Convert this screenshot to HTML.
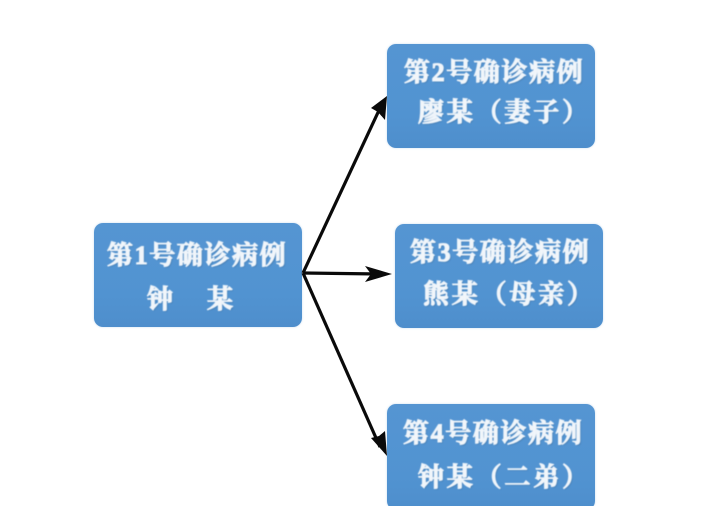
<!DOCTYPE html>
<html lang="zh">
<head>
<meta charset="utf-8">
<style>
html,body{margin:0;padding:0;background:#fff}
#c{position:relative;width:725px;height:506px;overflow:hidden;background:#fff}
.b{position:absolute;width:208px;height:104px;border-radius:9px;background:linear-gradient(#5595d2,#5193d1 70%,#4e8ecc);box-shadow:0 0 2px rgba(120,170,215,.4)}
.t{position:absolute;white-space:nowrap;line-height:30px;height:30px;color:#f2f6fa;font-family:"Liberation Serif","Noto Serif CJK SC",serif;font-weight:700;font-size:26px;letter-spacing:1.6px;-webkit-text-stroke:1.1px #eef4fa;filter:blur(.5px);text-shadow:1px 1px 1px rgba(50,90,130,.45)}
.s{letter-spacing:2.8px}
svg{position:absolute;left:0;top:0}
</style>
</head>
<body>
<div id="c">
<div class="b" style="left:94px;top:223px"></div>
<div class="b" style="left:387px;top:44px"></div>
<div class="b" style="left:395px;top:224px"></div>
<div class="b" style="left:387px;top:404px;height:106px"></div>

<div class="t" style="left:107px;top:241px">第1号确诊病例</div>
<div class="t" style="left:147px;top:285px">钟</div>
<div class="t" style="left:207px;top:285px">某</div>

<div class="t" style="left:404px;top:58px">第2号确诊病例</div>
<div class="t s" style="left:418px;top:98px">廖某（妻子）</div>

<div class="t" style="left:410px;top:238px">第3号确诊病例</div>
<div class="t s" style="left:423px;top:280px">熊某（母亲）</div>

<div class="t" style="left:403px;top:419px">第4号确诊病例</div>
<div class="t s" style="left:418px;top:463px">钟某（二弟）</div>

<svg width="725" height="506" viewBox="0 0 725 506">
<g stroke="#0a0a0a" stroke-width="3.2" fill="none">
<line x1="303" y1="273" x2="381" y2="106"/>
<line x1="303" y1="273" x2="380" y2="274"/>
<line x1="303" y1="273" x2="380" y2="447"/>
</g>
<g fill="#0a0a0a">
<polygon points="387,96 385,120 378,112 371,108"/>
<polygon points="392,274 365,266 371,274 365,282"/>
<polygon points="387,456 371,438 379,436 385,431"/>
</g>
</svg>
</div>
</body>
</html>
